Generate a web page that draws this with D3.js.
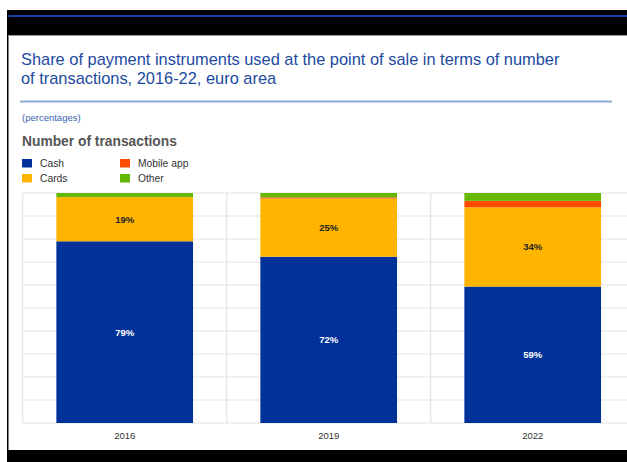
<!DOCTYPE html>
<html><head><meta charset="utf-8">
<script src="https://cdn.jsdelivr.net/npm/d3@7"></script>
<style>body{margin:0;background:#fff}svg{display:block}</style>
</head><body>
<script>
const categories = ["2016", "2019", "2022"];
const seriesNames = ["Cash", "Cards", "Mobile app", "Other"];
const cash = [79, 72.3, 59.3];
const cards = [19.2, 25.3, 34.5];
const mobile = [0, 0.5, 2.8];
const other = [1.8, 1.9, 3.4];
const yTicks = [0, 10, 20, 30, 40, 50, 60, 70, 80, 90, 100];
const cashLabels = ["79%", "72%", "59%"];
const cardLabels = ["19%", "25%", "34%"];
const colors = ["#003299", "#ffb400", "#ff4b00", "#65b800"];

const W = 627, H = 462;
const svg = d3.select("body").append("svg").attr("width", W).attr("height", H);
const F = "Liberation Sans, Arial, sans-serif";

// frame
svg.append("rect").attr("x", 0).attr("y", 0).attr("width", W).attr("height", H).attr("fill", "#fff");
svg.append("rect").attr("x", 7).attr("y", 10).attr("width", W - 7).attr("height", 25).attr("fill", "#000");
svg.append("rect").attr("x", 7).attr("y", 15).attr("width", W - 7).attr("height", 2).attr("fill", "#1a3fa8");
svg.append("rect").attr("x", 7).attr("y", 10).attr("width", 1.5).attr("height", H - 10).attr("fill", "#000");
svg.append("rect").attr("x", 7).attr("y", 450).attr("width", W - 7).attr("height", 12).attr("fill", "#000");
svg.append("line").attr("x1", 8).attr("x2", W).attr("y1", 35.5).attr("y2", 35.5).attr("stroke", "#999").attr("stroke-width", 1);

// title (two lines)
svg.append("text").attr("x", 21).attr("y", 64.8).attr("font-family", F).attr("font-size", 16.4).attr("fill", "#1d4aa0")
  .text("Share of payment instruments used at the point of sale in terms of number");
svg.append("text").attr("x", 21).attr("y", 83.5).attr("font-family", F).attr("font-size", 16.4).attr("fill", "#1d4aa0")
  .text("of transactions, 2016-22, euro area");
svg.append("line").attr("x1", 20).attr("x2", 612).attr("y1", 101.5).attr("y2", 101.5).attr("stroke", "#8ea8d8").attr("stroke-width", 2);
svg.append("text").attr("x", 22).attr("y", 121).attr("font-family", F).attr("font-size", 9.5).attr("fill", "#3a5fb0").text("(percentages)");
svg.append("text").attr("x", 22).attr("y", 146).attr("font-family", F).attr("font-size", 13.8).attr("font-weight", "bold").attr("fill", "#555").text("Number of transactions");

// legend
const legPos = [[22, 159], [22, 174], [120, 159], [120, 174]];
seriesNames.forEach((n, i) => {
  const g = svg.append("g").attr("transform", `translate(${legPos[i][0]},${legPos[i][1]})`);
  g.append("rect").attr("width", 10).attr("height", 8.5).attr("fill", colors[i]);
  g.append("text").attr("x", 18).attr("y", 7.8).attr("font-family", F).attr("font-size", 10.3).attr("fill", "#333").text(n);
});

// plot
const x0 = 22.7, yTop = 193, yBot = 423;
const x = d3.scaleBand().domain(categories).range([x0, x0 + 204 * 3]).paddingInner(0.33).paddingOuter(0.165);
const y = d3.scaleLinear().domain([0, 100]).range([yBot, yTop]);

const grid = svg.append("g");
grid.selectAll("line.h").data(yTicks).enter().append("line")
  .attr("x1", x0).attr("x2", W).attr("y1", d => y(d)).attr("y2", d => y(d))
  .attr("stroke", "#e4e4e4").attr("stroke-width", 1.2);
const bounds = [0, 1, 2, 3].map(i => x0 + i * 204);
grid.selectAll("line.v").data(bounds).enter().append("line")
  .attr("x1", d => d).attr("x2", d => d).attr("y1", yTop).attr("y2", yBot)
  .attr("stroke", "#e4e4e4").attr("stroke-width", 1.2);

const table = categories.map((c, i) => ({cat: c, Cash: cash[i], Cards: cards[i], "Mobile app": mobile[i], Other: other[i]}));
const stacked = d3.stack().keys(seriesNames)(table);
stacked.forEach((s, si) => {
  svg.append("g").selectAll("rect").data(s).enter().append("rect")
    .attr("x", d => x(d.data.cat)).attr("width", x.bandwidth())
    .attr("y", d => y(d[1])).attr("height", d => y(d[0]) - y(d[1]))
    .attr("fill", colors[si]);
});

// value labels
stacked[0].forEach((d, i) => {
  svg.append("text").attr("x", x(d.data.cat) + x.bandwidth() / 2).attr("y", (y(d[0]) + y(d[1])) / 2 + 3.5)
    .attr("text-anchor", "middle").attr("font-family", F).attr("font-size", 9.5).attr("font-weight", "bold")
    .attr("fill", "#fff").text(cashLabels[i]);
});
stacked[1].forEach((d, i) => {
  svg.append("text").attr("x", x(d.data.cat) + x.bandwidth() / 2).attr("y", (y(d[0]) + y(d[1])) / 2 + 3.5)
    .attr("text-anchor", "middle").attr("font-family", F).attr("font-size", 9.5).attr("font-weight", "bold")
    .attr("fill", "#222").text(cardLabels[i]);
});

// x axis
const xAxis = d3.axisBottom(x).tickSize(0).tickPadding(9);
const ax = svg.append("g").attr("transform", `translate(0,${yBot})`).call(xAxis);
ax.select(".domain").remove();
ax.selectAll("text").attr("font-family", F).attr("font-size", 9.5).attr("fill", "#333");
</script>
</body></html>
